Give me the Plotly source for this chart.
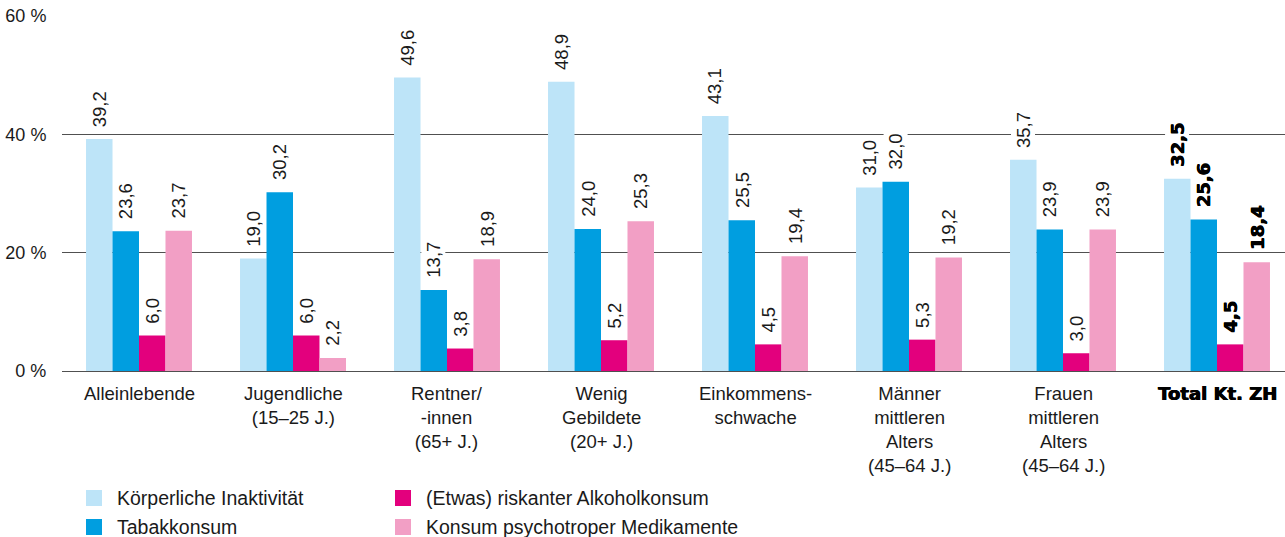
import plotly.graph_objects as go

# Risk behaviours by population group (share in %)
categories = [
    "Alleinlebende",
    "Jugendliche<br>(15–25 J.)",
    "Rentner/<br>-innen<br>(65+ J.)",
    "Wenig<br>Gebildete<br>(20+ J.)",
    "Einkommens-<br>schwache",
    "Männer<br>mittleren<br>Alters<br>(45–64 J.)",
    "Frauen<br>mittleren<br>Alters<br>(45–64 J.)",
    "Total Kt. ZH",
]
series_names = [
    "Körperliche Inaktivität",
    "Tabakkonsum",
    "(Etwas) riskanter Alkoholkonsum",
    "Konsum psychotroper Medikamente",
]
inaktivitaet = [39.2, 19.0, 49.6, 48.9, 43.1, 31.0, 35.7, 32.5]
tabak = [23.6, 30.2, 13.7, 24.0, 25.5, 32.0, 23.9, 25.6]
alkohol = [6.0, 6.0, 3.8, 5.2, 4.5, 5.3, 3.0, 4.5]
medikamente = [23.7, 2.2, 18.9, 25.3, 19.4, 19.2, 23.9, 18.4]
y_ticks = [0, 20, 40, 60]
y_ticktext = ["0 %", "20 %", "40 %", "60 %"]

series = [inaktivitaet, tabak, alkohol, medikamente]
colors = ["#bde4f8", "#009ee0", "#e3007d", "#f29fc5"]

W, H = 1285, 537
ML, MR, MT, MB = 62, 0, 16, 166
PW, PH = W - ML - MR, H - MT - MB
BARGAP = 0.312
N = len(series)
bw = (1 - BARGAP) / N

FONT = "Liberation Sans, Arial, sans-serif"
HEAVY = "DejaVu Sans, sans-serif"
HEAVY_SHADOW = "0.6px 0 0 #000, -0.3px 0 0 #000"
TXT = "#1a1a1a"


def px_x(p):
    return (p - ML) / PW


def px_y(p):
    return (H - MB - p) / PH


def fmt(v):
    return f"{v:.1f}".replace(".", ",")


def label_font(heavy, size):
    if heavy:
        return dict(family=HEAVY, size=size, color="black", weight="bold", shadow=HEAVY_SHADOW)
    return dict(family=FONT, size=size, color=TXT)


xs = list(range(len(categories)))
fig = go.Figure()
for name, vals, col in zip(series_names, series, colors):
    fig.add_trace(go.Bar(x=xs, y=vals, name=name, marker=dict(color=col, line=dict(width=0)),
                         showlegend=False, hoverinfo="skip"))

annotations = []
last = len(categories) - 1
# value labels above each bar
for k, vals in enumerate(series):
    for i, v in enumerate(vals):
        heavy = i == last
        annotations.append(dict(
            x=i + (k - (N - 1) / 2) * bw, y=v, xref="x", yref="y",
            text=fmt(v), textangle=-90, showarrow=False,
            xanchor="center", yanchor="bottom", yshift=10,
            bgcolor="white", borderpad=1,
            font=label_font(heavy, 18 if heavy else 18.5),
        ))

# category labels below the axis
for i, c in enumerate(categories):
    heavy = i == last
    annotations.append(dict(
        x=i, y=0, xref="x", yref="y", text=c, showarrow=False,
        xanchor="center", yanchor="top", yshift=-10, align="center",
        font=label_font(heavy, 18 if heavy else 18.5),
    ))

# legend in two columns
shapes = []
legend_pos = [(86, 498), (86, 527), (395, 498), (395, 527)]
for (lx, ly), name, col in zip(legend_pos, series_names, colors):
    shapes.append(dict(type="rect", xref="paper", yref="paper",
                       x0=px_x(lx), x1=px_x(lx + 16), y0=px_y(ly - 8), y1=px_y(ly + 8),
                       fillcolor=col, line=dict(width=0)))
    annotations.append(dict(x=px_x(lx + 29), y=px_y(ly), xref="paper", yref="paper",
                            text=name, showarrow=False, xanchor="left", yanchor="middle",
                            font=dict(family=FONT, size=19.5, color=TXT)))

fig.update_layout(
    width=W, height=H,
    margin=dict(l=ML, r=MR, t=MT, b=MB),
    paper_bgcolor="white", plot_bgcolor="white",
    barmode="group", bargap=BARGAP, bargroupgap=0,
    annotations=annotations, shapes=shapes,
    showlegend=False,
    xaxis=dict(range=[-0.5, -0.5 + PW / 154.0], showticklabels=False, showgrid=False,
               zeroline=False, showline=False, ticks="", fixedrange=True),
    yaxis=dict(range=[0, 60], tickvals=y_ticks, ticktext=y_ticktext,
               showgrid=True, gridcolor="#505050", gridwidth=1.3,
               zeroline=True, zerolinecolor="#505050", zerolinewidth=1.3,
               showline=False, ticks="outside", ticklen=11, tickcolor="rgba(0,0,0,0)",
               tickfont=dict(family=FONT, size=18, color=TXT), fixedrange=True),
)

fig.write_html("out.html", config={"displayModeBar": False})
